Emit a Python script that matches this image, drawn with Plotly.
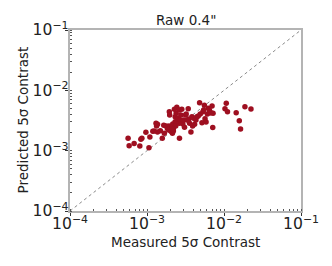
import plotly.graph_objects as go

measured = [5.68e-4, 5.86e-4, 6.81e-4, 8.07e-4, 8.32e-4, 8.58e-4, 9.67e-4, 1.06e-3, 1.09e-3, 1.19e-3,
            1.24e-3, 1.31e-3, 1.33e-3, 1.37e-3, 1.37e-3, 1.49e-3, 1.58e-3, 1.65e-3, 1.68e-3, 1.77e-3,
            1.84e-3, 1.91e-3, 1.93e-3, 1.95e-3, 1.97e-3, 1.99e-3, 2.05e-3, 2.10e-3, 2.14e-3, 2.16e-3,
            2.20e-3, 2.27e-3, 2.32e-3, 2.32e-3, 2.36e-3, 2.39e-3, 2.44e-3, 2.49e-3, 2.56e-3, 2.61e-3,
            2.64e-3, 2.64e-3, 2.72e-3, 2.75e-3, 2.83e-3, 2.92e-3, 2.98e-3, 3.07e-3, 3.16e-3, 3.23e-3,
            3.29e-3, 3.43e-3, 3.50e-3, 3.57e-3, 3.72e-3, 3.83e-3, 3.91e-3, 4.03e-3, 4.15e-3, 4.32e-3,
            4.45e-3, 4.63e-3, 4.82e-3, 4.92e-3, 5.17e-3, 5.33e-3, 5.44e-3, 5.56e-3, 5.67e-3, 5.85e-3,
            6.08e-3, 6.27e-3, 6.46e-3, 6.59e-3, 6.79e-3, 7.00e-3, 7.14e-3, 7.21e-3, 1.03e-2, 1.07e-2,
            1.11e-2, 1.44e-2, 1.58e-2, 1.64e-2, 1.87e-2, 2.24e-2, 2.05e-3, 2.20e-3, 1.90e-3, 2.12e-3]
predicted = [1.60e-3, 1.21e-3, 1.32e-3, 1.19e-3, 1.54e-3, 1.60e-3, 2.01e-3, 1.12e-3, 1.68e-3, 2.09e-3,
             2.12e-3, 2.84e-3, 2.56e-3, 2.73e-3, 2.04e-3, 2.14e-3, 1.60e-3, 2.63e-3, 1.94e-3, 2.56e-3,
             2.34e-3, 2.20e-3, 2.56e-3, 4.43e-3, 3.90e-3, 2.38e-3, 2.09e-3, 2.50e-3, 1.94e-3, 2.77e-3,
             2.34e-3, 4.84e-3, 3.66e-3, 3.02e-3, 2.56e-3, 4.16e-3, 5.23e-3, 3.31e-3, 3.43e-3, 2.84e-3,
             4.72e-3, 1.60e-3, 3.22e-3, 3.90e-3, 4.84e-3, 2.77e-3, 3.22e-3, 2.44e-3, 3.90e-3, 4.05e-3,
             3.22e-3, 4.97e-3, 3.35e-3, 2.84e-3, 2.04e-3, 3.66e-3, 2.56e-3, 3.43e-3, 2.73e-3, 3.22e-3,
             3.66e-3, 3.76e-3, 6.25e-3, 4.05e-3, 2.91e-3, 4.43e-3, 4.72e-3, 5.64e-3, 3.39e-3, 2.99e-3,
             4.05e-3, 5.03e-3, 4.72e-3, 4.27e-3, 4.27e-3, 5.50e-3, 2.41e-3, 4.16e-3, 4.97e-3, 6.09e-3,
             4.43e-3, 4.27e-3, 3.14e-3, 2.29e-3, 5.36e-3, 4.91e-3, 2.27e-3, 2.12e-3, 2.25e-3, 2.30e-3]

diag = [1e-4, 1e-1]
title_text = 'Raw 0.4"'
x_title = "Measured 5\u03c3 Contrast"
y_title = "Predicted 5\u03c3 Contrast"

FONT = "DejaVu Sans"
TXT = "#222222"

fig = go.Figure()
fig.add_trace(go.Scatter(x=diag, y=diag, mode="lines",
                         line=dict(color="#8a8a8a", width=1, dash="dot"),
                         hoverinfo="skip", showlegend=False))
fig.add_trace(go.Scatter(x=measured, y=predicted, mode="markers",
                         marker=dict(color="#9e0f20", size=5.5, line=dict(width=0)),
                         showlegend=False))

axis_common = dict(
    type="log", range=[-4, -1], dtick=1, exponentformat="power",
    showgrid=False, zeroline=False,
    showline=True, linecolor="#b4b4b4", linewidth=2, mirror=True,
    ticks="outside", ticklen=3, tickcolor="#333333", tickwidth=1,
    tickfont=dict(family=FONT, size=12.5, color=TXT),
    minor=dict(ticks="inside", ticklen=2, tickcolor="#555555", tickwidth=1, showgrid=False),
)

# The page body adds an 8 px offset; the figure is sized to fit the window.
fig.update_layout(
    width=324, height=258,
    margin=dict(l=62, r=31, t=22, b=55),
    paper_bgcolor="white", plot_bgcolor="white",
    font=dict(family=FONT, size=13.5, color=TXT),
    xaxis=dict(**axis_common, ticklabelstandoff=-5),
    yaxis=dict(**axis_common, ticklabelstandoff=-6),
    annotations=[
        dict(text=title_text, xref="paper", yref="paper", x=0.5, y=1,
             xanchor="center", yanchor="bottom", yshift=0, showarrow=False,
             font=dict(family=FONT, size=13.5, color=TXT)),
        dict(text=x_title, xref="paper", yref="paper", x=0.5, y=0,
             xanchor="center", yanchor="middle", yshift=-31, showarrow=False,
             font=dict(family=FONT, size=13.5, color=TXT)),
        dict(text=y_title, xref="paper", yref="paper", x=0, y=0.5,
             xanchor="center", yanchor="middle", xshift=-48, textangle=-90, showarrow=False,
             font=dict(family=FONT, size=13.5, color=TXT)),
    ],
)

fig.write_html("out.html")
